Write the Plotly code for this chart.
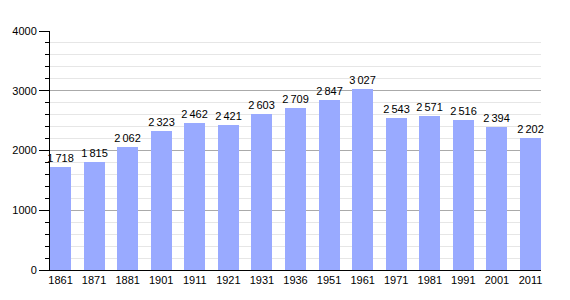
import plotly.graph_objects as go

years = ["1861", "1871", "1881", "1901", "1911", "1921", "1931", "1936", "1951", "1961",
         "1971", "1981", "1991", "2001", "2011"]
population = [1718, 1815, 2062, 2323, 2462, 2421, 2603, 2709, 2847, 3027,
              2543, 2571, 2516, 2394, 2202]
y_ticks = [0, 1000, 2000, 3000, 4000]

labels = [f"{v:,}".replace(",", "\u202f") for v in population]

fig = go.Figure(go.Bar(
    x=list(range(len(years))), y=population,
    width=0.627,
    marker=dict(color="#99aaff", line=dict(width=0)),
    text=labels, textposition="outside", cliponaxis=False,
    constraintext="none",
    textfont=dict(size=11, color="black", family="Liberation Sans, Arial"),
))

fig.update_layout(
    width=570, height=300,
    margin=dict(l=50, r=29, t=31, b=30),
    paper_bgcolor="white", plot_bgcolor="white",
    showlegend=False,
    bargap=0,
    font=dict(family="Liberation Sans, Arial", size=11, color="black"),
)
fig.update_xaxes(
    range=[-0.3135, len(years) - 1 + 0.3135],
    tickmode="array", tickvals=list(range(len(years))), ticktext=years,
    showgrid=False, showline=True, linecolor="black", linewidth=1,
    ticks="", zeroline=False, tickfont=dict(size=11),
)
fig.update_yaxes(
    range=[0, 4000], tickmode="array", tickvals=y_ticks,
    showgrid=True, gridcolor="#aaaaaa", gridwidth=1,
    showline=True, linecolor="black", linewidth=1,
    ticks="outside", ticklen=10, tickcolor="black", tickwidth=1,
    zeroline=False, tickfont=dict(size=11),
    minor=dict(dtick=200, showgrid=True, gridcolor="#e6e6e6", gridwidth=1,
               ticks="outside", ticklen=4, tickcolor="black", tickwidth=1),
)

fig.write_html("out.html")
